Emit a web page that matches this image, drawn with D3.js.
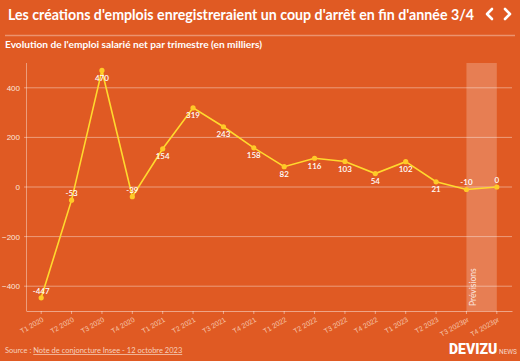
<!DOCTYPE html>
<html><head><meta charset="utf-8">
<script src="https://cdn.jsdelivr.net/npm/d3@7"></script>
<style>
html,body{margin:0;padding:0;background:#e05a23;}
svg{display:block;font-family:"Source Sans Pro","Lato","Open Sans",sans-serif;}
</style></head>
<body>
<svg id="c" width="520" height="361"></svg>
<script>
const categories = ["T1 2020","T2 2020","T3 2020","T4 2020","T1 2021","T2 2021","T3 2021","T4 2021","T1 2022","T2 2022","T3 2022","T4 2022","T1 2023","T2 2023","T3 2023pr","T4 2023pr"];
const values = [-447,-53,470,-39,154,319,243,158,82,116,103,54,102,21,-10,0];
const yTicks = [-400,-200,0,200,400];
const forecastStart = "T3 2023pr";
const forecastEnd = "T4 2023pr";

const svg = d3.select("#c");
svg.append("rect").attr("width",520).attr("height",361).attr("fill","#e05a23");

// header
svg.append("text").attr("x",8).attr("y",20).attr("fill","#fff")
  .attr("font-size",14.5).attr("font-weight",700)
  .attr("textLength",466).attr("lengthAdjust","spacingAndGlyphs")
  .text("Les créations d'emplois enregistreraient un coup d'arrêt en fin d'année 3/4");
svg.append("path").attr("d","M492,9 L487,14 L492,19").attr("fill","none").attr("stroke","#fff").attr("stroke-width",2.6).attr("stroke-linecap","round").attr("stroke-linejoin","round");
svg.append("path").attr("d","M505,9 L510,14 L505,19").attr("fill","none").attr("stroke","#fff").attr("stroke-width",2.6).attr("stroke-linecap","round").attr("stroke-linejoin","round");
svg.append("line").attr("x1",5).attr("x2",515).attr("y1",35.5).attr("y2",35.5).attr("stroke","rgba(255,255,255,0.35)").attr("stroke-width",1.5);
svg.append("text").attr("x",5).attr("y",47.5).attr("fill","#fff")
  .attr("font-size",10).attr("font-weight",700)
  .attr("textLength",257).attr("lengthAdjust","spacingAndGlyphs")
  .text("Evolution de l'emploi salarié net par trimestre (en milliers)");

const L=26, R=512, T=63, B=311;
const x = d3.scaleBand().domain(categories).range([L,R]);
const cx = c => x(c) + x.bandwidth()/2;
const y = d3.scaleLinear().domain([-500,500]).range([B,T]);

// forecast band
svg.append("rect").attr("x",cx(forecastStart)).attr("width",cx(forecastEnd)-cx(forecastStart))
  .attr("y",T).attr("height",B-T).attr("fill","rgba(255,255,255,0.22)");
svg.append("text").attr("transform",`translate(${cx(forecastStart)+9.5},${B-5}) rotate(-90)`)
  .attr("fill","rgba(255,255,255,0.8)").attr("font-size",8.5).text("Prévisions");

// grid
svg.append("g").selectAll("line").data(yTicks).join("line")
  .attr("x1",L-2).attr("x2",R).attr("y1",d=>y(d)).attr("y2",d=>y(d))
  .attr("stroke","rgba(255,255,255,0.4)").attr("stroke-width",1);

// y axis
const ya = svg.append("g").attr("transform",`translate(${L},0)`)
  .call(d3.axisLeft(y).tickValues(yTicks).tickSize(0).tickPadding(6));
ya.select(".domain").remove();
ya.selectAll("text").attr("fill","#fbe6da").attr("font-size",8).attr("font-family","inherit");
svg.append("line").attr("x1",L+0.5).attr("x2",L+0.5).attr("y1",T).attr("y2",B)
  .attr("stroke","rgba(255,255,255,0.4)");

// x axis
const xa = svg.append("g").attr("transform",`translate(0,${B})`)
  .call(d3.axisBottom(x).tickSize(3).tickSizeOuter(0));
xa.select(".domain").attr("stroke","rgba(255,255,255,0.45)");
xa.selectAll(".tick line").attr("stroke","rgba(255,255,255,0.45)");
xa.selectAll("text").attr("fill","#f6c6ac").attr("font-size",7).attr("font-family","inherit")
  .attr("text-anchor","end").attr("dy",null).attr("y",0)
  .attr("transform","translate(3,10) rotate(-30)");

// line
const pts = categories.map((c,i)=>({c, v:values[i]}));
svg.append("path").datum(pts)
  .attr("d", d3.line().x(d=>cx(d.c)).y(d=>y(d.v)))
  .attr("fill","none").attr("stroke","#ffd92e").attr("stroke-width",1.6);
svg.append("g").selectAll("circle").data(pts).join("circle")
  .attr("cx",d=>cx(d.c)).attr("cy",d=>y(d.v)).attr("r",2.6).attr("fill","#ffc928");
svg.append("g").selectAll("text").data(pts).join("text")
  .attr("x",d=>cx(d.c)).attr("y",d=> d.v<=0 ? y(d.v)-4 : y(d.v)+10.5)
  .attr("text-anchor","middle").attr("fill","#fff").attr("font-size",8).attr("font-weight",600)
  .text(d=>d.v);

// footer
const src = svg.append("text").attr("x",5).attr("y",353).attr("fill","#f6d0bb").attr("font-size",7.5);
src.append("tspan").text("Source : ");
src.append("tspan").attr("text-decoration","underline").text("Note de conjoncture Insee - 12 octobre 2023");
svg.append("text").attr("x",449).attr("y",354).attr("fill","#fff").attr("font-size",14).attr("font-weight",900)
  .attr("font-family","Roboto, sans-serif").text("DEVIZU");
svg.append("text").attr("x",499).attr("y",354).attr("fill","rgba(255,255,255,0.75)").attr("font-size",6.5)
  .attr("font-family","Roboto, sans-serif").text("NEWS");
</script>
</body></html>
